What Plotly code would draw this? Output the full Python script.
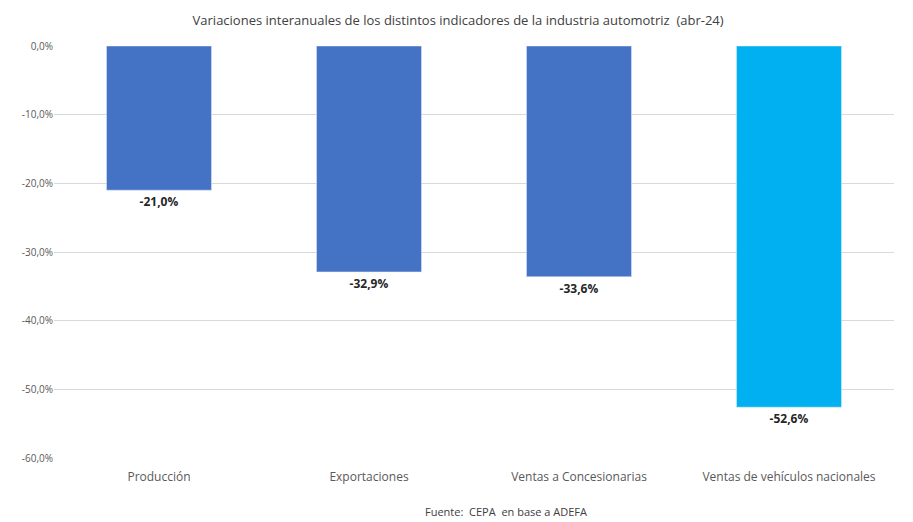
import plotly.graph_objects as go

categories = ["Producción", "Exportaciones", "Ventas a Concesionarias", "Ventas de vehículos nacionales"]
values = [-21.0, -32.9, -33.6, -52.6]
colors = ["#4472C4", "#4472C4", "#4472C4", "#00B0F0"]
labels = ["-21,0%", "-32,9%", "-33,6%", "-52,6%"]
tickvals = [0, -10, -20, -30, -40, -50, -60]
ticktext = ["0,0%", "-10,0%", "-20,0%", "-30,0%", "-40,0%", "-50,0%", "-60,0%"]

fig = go.Figure(go.Bar(
    x=categories, y=values, marker_color=colors, width=0.5,
    text=labels, textposition="outside", cliponaxis=False,
    textfont=dict(size=12, color="#262626", family="Open Sans"),
))
fig.update_traces(texttemplate="<b>%{text}</b>")
fig.update_layout(
    width=913, height=522, margin=dict(l=46, r=27, t=38, b=72),
    paper_bgcolor="white", plot_bgcolor="white", showlegend=False,
    font=dict(family="Open Sans", size=11, color="#595959"),
    title=dict(text="Variaciones interanuales de los distintos indicadores de la industria automotriz  (abr-24)",
               x=0.493, xanchor="center", y=0.977, yanchor="middle",
               font=dict(size=13, color="#404040")),
    yaxis=dict(range=[-60, 0], tickvals=tickvals, ticktext=ticktext, automargin=False,
               gridcolor="#D9D9D9", zeroline=False, showline=False, ticks="", tickfont=dict(size=10)),
    xaxis=dict(showline=False, ticks="", tickfont=dict(size=12), automargin=False,
               ticklabelstandoff=10),
    annotations=[dict(text="Fuente:  CEPA  en base a ADEFA", xref="paper", yref="paper",
                      x=0.538, y=-0.131, yanchor="middle", showarrow=False,
                      font=dict(size=11, color="#404040"))],
)
fig.write_html("out.html")
